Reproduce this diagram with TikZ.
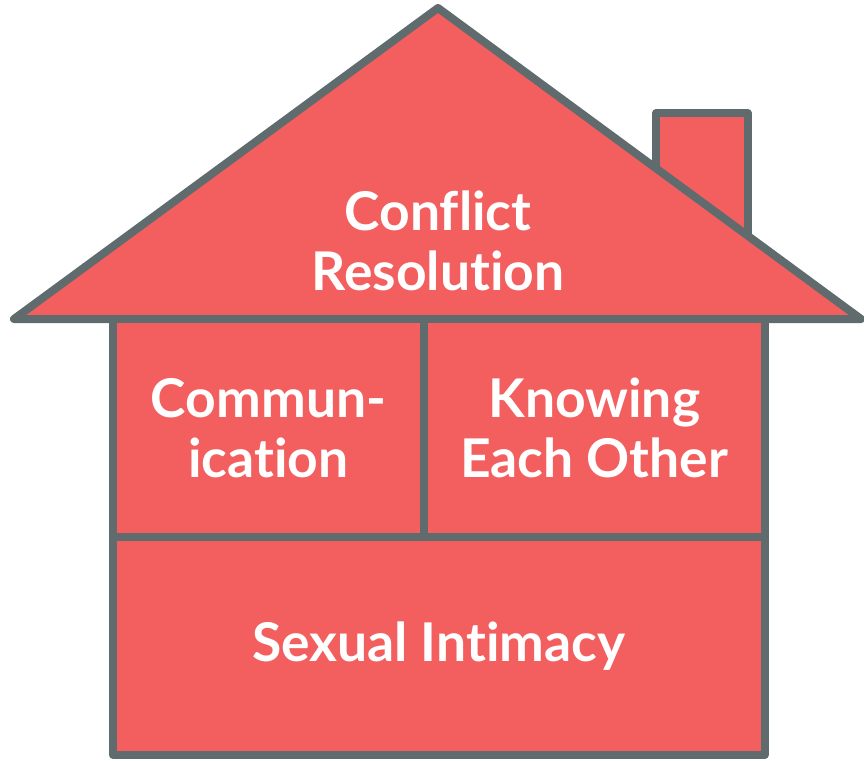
\documentclass[tikz,border=0pt]{standalone}
\usepackage{fontspec}
\setmainfont{Lato}[Ligatures=NoCommon]
\usetikzlibrary{positioning}
\definecolor{housered}{HTML}{F35F5F}
\definecolor{housegrey}{HTML}{5F6B6D}

\begin{document}
\begin{tikzpicture}[x=.02cm, y=-.02cm, line width=.16cm, line join=round,
		room/.style={font=\fontsize{30.4}{34}\selectfont\bfseries, text=white, align=center},
		wall/.style={housegrey, fill=housered}]
			\useasboundingbox (0,0) rectangle (864,760);
			% chimney first, the roof hides its foot
			\draw[wall] (656,113) rectangle (747.5,260);
			\draw[wall] (438,8) -- (861,319) -- (14,319) -- cycle;
			\node[room] (roof) at (438,241) {Conflict\\Resolution};
			\draw[wall] (113,319) rectangle (424,537) node[pos=.5, room] (comm) {Commun-\\ication};
			\draw[wall] (424,319) rectangle (764.5,537) node[pos=.5, room] (know) {Knowing\\Each Other};
			\draw[wall] (113,537) rectangle (764.5,755) node[pos=.5, room] (sex) {Sexual Intimacy};
		\end{tikzpicture}
\end{document}
